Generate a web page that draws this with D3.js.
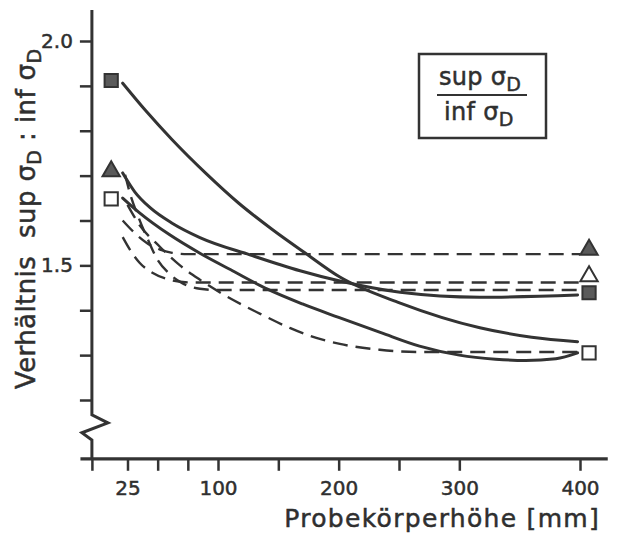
<!DOCTYPE html>
<html>
<head>
<meta charset="utf-8">
<script src="https://cdn.jsdelivr.net/npm/d3@7/dist/d3.min.js"></script>
<style>
  body { margin: 0; background: #fff; }
  text { font-family: "DejaVu Sans", sans-serif; fill: #2f2f2f; stroke: #2f2f2f; stroke-width: 0.5px; }
</style>
</head>
<body>
<script>
// Data: [Probekörperhöhe mm, Verhältnis]

// solid curves
const solidFilledSquare = [[21,1.906],[40,1.845],[62,1.780],[90,1.705],[117,1.639],[145,1.580],[172,1.528],[201,1.474],[251,1.416],[317,1.361],[360,1.340],[398,1.330]];
const solidTriangle = [[21,1.706],[31,1.664],[44,1.628],[62,1.594],[85,1.562],[127,1.523],[168,1.488],[201,1.465],[251,1.440],[317,1.429],[398,1.434]];
const solidOpenSquare = [[21,1.650],[35,1.617],[60,1.568],[85,1.527],[112,1.488],[141,1.447],[170,1.414],[200,1.384],[235,1.350],[267,1.320],[300,1.300],[330,1.291],[355,1.288],[380,1.292],[398,1.305]];

// dashed curves
const dashedTop = [[21,1.600],[31,1.572],[41,1.550],[52,1.535],[62,1.528],[75,1.525],[400,1.525]];
const dashedMid = [[21,1.563],[27,1.535],[35,1.506],[46,1.483],[60,1.468],[77,1.462],[400,1.462]];
const dashedMid2 = [[23,1.702],[27,1.661],[34,1.608],[42,1.557],[50,1.512],[59,1.483],[70,1.461],[85,1.448],[100,1.445],[400,1.445]];
const dashedLow = [[25,1.635],[35,1.590],[52,1.541],[68,1.501],[85,1.468],[102,1.439],[135,1.392],[160,1.360],[176,1.343],[201,1.325],[234,1.312],[267,1.307],[400,1.307]];

// end markers
const markersLeft = [
  {x: 11.5, y: 1.912, shape: "square", fill: true},
  {x: 11.5, y: 1.710, shape: "triangle", fill: true},
  {x: 11.5, y: 1.648, shape: "square", fill: false}
];
const markersRight = [
  {x: 407.5, y: 1.535, shape: "triangle", fill: true},
  {x: 407.5, y: 1.476, shape: "triangle", fill: false},
  {x: 407.5, y: 1.439, shape: "square", fill: true},
  {x: 407.5, y: 1.305, shape: "square", fill: false}
];

// ticks
const xTicks = [25, 50, 75, 100, 150, 200, 250, 300, 400];
const xTickLabels = [25, 100, 200, 300, 400];
const yTicks = [2.0, 1.9, 1.8, 1.7, 1.6, 1.5, 1.4, 1.3, 1.2];
const yTickLabels = [2.0, 1.5];

const ink = "#333";
const markFill = "#5a5a5a";

const width = 619, height = 535;

const x = d3.scaleLinear().domain([100, 400]).range([218, 580]);
const y = d3.scaleLinear().domain([1.2, 2.0]).range([400, 41]);

const xOrigin = -4.5;     // where the y axis sits
const yOrigin = 1.069;    // where the x axis sits

const svg = d3.select("body").append("svg")
    .attr("width", width)
    .attr("height", height);

// ---- x axis
const xAxis = svg.append("g")
    .attr("transform", `translate(0,${y(yOrigin)})`)
    .call(d3.axisBottom(x)
        .tickValues([xOrigin].concat(xTicks))
        .tickSize(12)
        .tickPadding(10)
        .tickFormat(d => xTickLabels.includes(d) ? d : ""));
xAxis.select(".domain").remove();
xAxis.selectAll(".tick line").attr("stroke", ink).attr("stroke-width", 2.5);
xAxis.selectAll(".tick text")
    .attr("font-size", 20)
    .attr("font-family", "DejaVu Sans")
    .attr("fill", ink);

svg.append("line")
    .attr("x1", x(-14)).attr("x2", x(423))
    .attr("y1", y(yOrigin)).attr("y2", y(yOrigin))
    .attr("stroke", ink).attr("stroke-width", 3.2);

// ---- y axis
const yAxis = svg.append("g")
    .attr("transform", `translate(${x(xOrigin)},0)`)
    .call(d3.axisLeft(y)
        .tickValues(yTicks)
        .tickSize(12)
        .tickPadding(7)
        .tickFormat(d => yTickLabels.includes(d) ? d3.format(".1f")(d) : ""));
yAxis.select(".domain").remove();
yAxis.selectAll(".tick line").attr("stroke", ink).attr("stroke-width", 2.5);
yAxis.selectAll(".tick text")
    .attr("font-size", 20)
    .attr("font-family", "DejaVu Sans")
    .attr("fill", ink);

// y axis line with the break
const x0 = x(xOrigin);
const yAxisPath = d3.path();
yAxisPath.moveTo(x0, y(2.069));
yAxisPath.lineTo(x0, y(1.167));
yAxisPath.lineTo(x0 + 16, y(1.149));
yAxisPath.lineTo(x0 - 10, y(1.127));
yAxisPath.lineTo(x0, y(1.111));
yAxisPath.lineTo(x0, y(yOrigin));
svg.append("path")
    .attr("d", yAxisPath.toString())
    .attr("fill", "none")
    .attr("stroke", ink)
    .attr("stroke-width", 3)
    .attr("stroke-linejoin", "miter");

// ---- curves
const line = d3.line()
    .x(d => x(d[0]))
    .y(d => y(d[1]))
    .curve(d3.curveMonotoneX);

[dashedTop, dashedMid, dashedMid2, dashedLow].forEach(s => {
  svg.append("path")
      .attr("d", line(s))
      .attr("fill", "none")
      .attr("stroke", ink)
      .attr("stroke-width", 2.4)
      .attr("stroke-dasharray", "15,8");
});

[solidFilledSquare, solidTriangle, solidOpenSquare].forEach(s => {
  svg.append("path")
      .attr("d", line(s))
      .attr("fill", "none")
      .attr("stroke", ink)
      .attr("stroke-width", 3)
      .attr("stroke-linecap", "round");
});

// ---- markers
const sq = d3.symbol().type(d3.symbolSquare).size(175);
const tri = d3.symbol().type(d3.symbolTriangle).size(130);

svg.selectAll(".marker")
    .data(markersLeft.concat(markersRight))
    .enter()
    .append("path")
    .attr("class", "marker")
    .attr("transform", d => `translate(${x(d.x)},${y(d.y)})`)
    .attr("d", d => d.shape === "square" ? sq() : tri())
    .attr("fill", d => d.fill ? markFill : "#fff")
    .attr("stroke", ink)
    .attr("stroke-width", 2);

// ---- axis titles
svg.append("text")
    .attr("x", 600)
    .attr("y", 527)
    .attr("text-anchor", "end")
    .attr("font-size", 25)
    .attr("letter-spacing", 1.3)
    .text("Probekörperhöhe [mm]");

const yTitle = svg.append("text")
    .attr("transform", "translate(35,389) rotate(-90)")
    .attr("font-size", 26)
    .attr("letter-spacing", 0.4);
yTitle.append("tspan").text("Verhältnis");
yTitle.append("tspan").attr("dx", 18).text("sup σ");
yTitle.append("tspan").attr("font-size", 19).attr("dy", 6).text("D");
yTitle.append("tspan").attr("dy", -6).text(" : inf σ");
yTitle.append("tspan").attr("font-size", 19).attr("dy", 6).text("D");

// ---- box with the fraction
const box = svg.append("g");
box.append("rect")
    .attr("x", 419).attr("y", 54)
    .attr("width", 127).attr("height", 84)
    .attr("fill", "none")
    .attr("stroke", ink)
    .attr("stroke-width", 2.5);

const num = box.append("text")
    .attr("x", 439).attr("y", 85)
    .attr("font-size", 24)
    .attr("letter-spacing", 0.3);
num.append("tspan").text("sup σ");
num.append("tspan").attr("font-size", 19).attr("dy", 6).text("D");

box.append("line")
    .attr("x1", 437).attr("x2", 527)
    .attr("y1", 95).attr("y2", 95)
    .attr("stroke", ink)
    .attr("stroke-width", 2.2);

const den = box.append("text")
    .attr("x", 444).attr("y", 120)
    .attr("font-size", 24)
    .attr("letter-spacing", 0.3);
den.append("tspan").text("inf σ");
den.append("tspan").attr("font-size", 19).attr("dy", 6).text("D");
</script>
</body>
</html>
